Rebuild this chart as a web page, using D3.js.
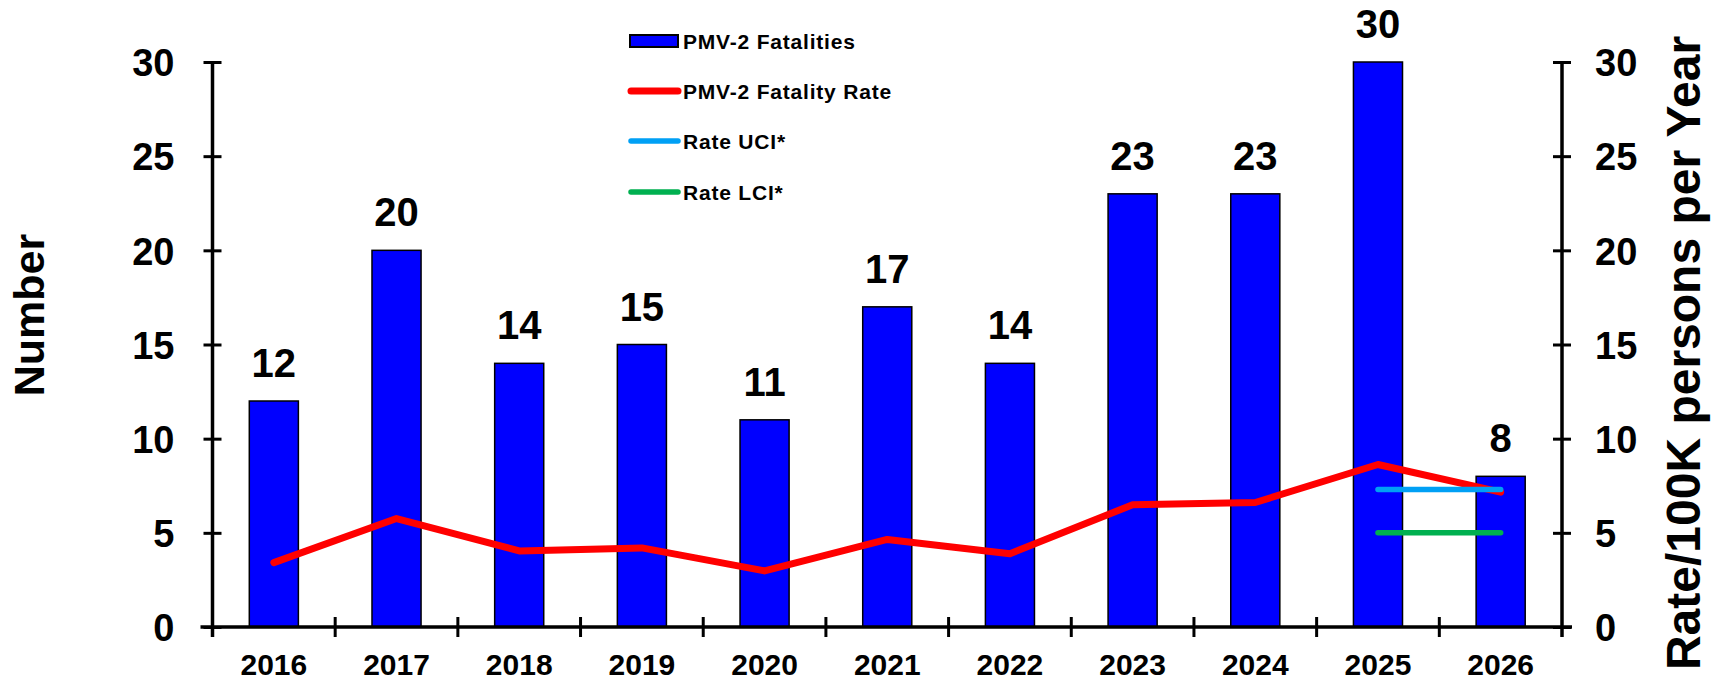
<!DOCTYPE html>
<html><head><meta charset="utf-8">
<script src="https://cdn.jsdelivr.net/npm/d3@7"></script>
<style>
html,body{margin:0;padding:0;background:#fff;}
text{font-family:"Liberation Sans",Arial,sans-serif;font-weight:bold;fill:#000;}
</style></head>
<body><svg id="c" width="1731" height="683"></svg>
<script>
const years = ["2016","2017","2018","2019","2020","2021","2022","2023","2024","2025","2026"];
const fatalities = [12,20,14,15,11,17,14,23,23,30,8];
const fatalityRate = [3.42,5.76,4.04,4.20,2.98,4.65,3.89,6.49,6.61,8.63,7.16];
const ciYears = ["2025","2026"];
const rateUCI = [7.3,7.3];
const rateLCI = [5.0,5.0];
const yTicks = [0,5,10,15,20,25,30];
const legendLabels = ["PMV-2 Fatalities","PMV-2 Fatality Rate","Rate UCI*","Rate LCI*"];

const svg = d3.select("#c");
const L = 212.5, R = 1562, T = 62, B = 627;
const x = d3.scaleBand().domain(years).range([L,R]).paddingInner(0.6).paddingOuter(0.3);
const y = d3.scaleLinear().domain([0,30]).range([B,T]);
const y2 = d3.scaleLinear().domain([0,30]).range([B,T]);
const step = x.step();

// bars
svg.append("g").selectAll("rect").data(years).join("rect")
  .attr("x", d=>x(d)).attr("width", x.bandwidth())
  .attr("y", (d,i)=>y(fatalities[i])).attr("height",(d,i)=>B-y(fatalities[i]))
  .attr("fill","#0000FF").attr("stroke","#000").attr("stroke-width",1.5);

// data labels
svg.append("g").selectAll("text").data(years).join("text")
  .attr("x", d=>x(d)+x.bandwidth()/2).attr("y",(d,i)=>y(fatalities[i])-24)
  .attr("text-anchor","middle").style("font-size","40px")
  .text((d,i)=>fatalities[i]);

// rate line
const cx = d=>x(d)+x.bandwidth()/2;
const line = d3.line().x(d=>cx(d[0])).y(d=>y2(d[1]));
svg.append("path").datum(years.map((d,i)=>[d,fatalityRate[i]]))
  .attr("d",line).attr("fill","none").attr("stroke","#FF0000").attr("stroke-width",7)
  .attr("stroke-linejoin","round").attr("stroke-linecap","round");
svg.append("path").datum(ciYears.map((d,i)=>[d,rateUCI[i]]))
  .attr("d",line).attr("fill","none").attr("stroke","#00A0F5").attr("stroke-width",5.5)
  .attr("stroke-linecap","round");
svg.append("path").datum(ciYears.map((d,i)=>[d,rateLCI[i]]))
  .attr("d",line).attr("fill","none").attr("stroke","#00B050").attr("stroke-width",5.5)
  .attr("stroke-linecap","round");

// axes
const gl = svg.append("g").attr("transform",`translate(${L},0)`)
  .call(d3.axisLeft(y).tickValues(yTicks).tickSize(9).tickPadding(29));
gl.select(".domain").attr("d",`M0,${T}V${B+10}`).attr("stroke","#000").attr("stroke-width",3.5);
gl.selectAll(".tick line").attr("x1",9).attr("stroke","#000").attr("stroke-width",3);
gl.selectAll(".tick text").style("font-size","38px").attr("dy","0.36em");

const gr = svg.append("g").attr("transform",`translate(${R},0)`)
  .call(d3.axisRight(y2).tickValues(yTicks).tickSize(9).tickPadding(24));
gr.select(".domain").attr("d",`M0,${T}V${B+10}`).attr("stroke","#000").attr("stroke-width",3.5);
gr.selectAll(".tick line").attr("x1",-9).attr("stroke","#000").attr("stroke-width",3);
gr.selectAll(".tick text").style("font-size","38px").attr("dy","0.36em");

const gb = svg.append("g").attr("transform",`translate(0,${B})`)
  .call(d3.axisBottom(x).tickSize(0).tickPadding(27));
gb.select(".domain").attr("d",`M${L-12},0H${R+10}`).attr("stroke","#000").attr("stroke-width",3.5);
gb.selectAll(".tick text").style("font-size","30px").attr("dy","0.71em");
// category boundary ticks
const bounds = d3.range(years.length+1).map(i=>L + i*step);
svg.append("g").selectAll("line").data(bounds.slice(1,-1)).join("line")
  .attr("x1",d=>d).attr("x2",d=>d).attr("y1",B-10).attr("y2",B+10)
  .attr("stroke","#000").attr("stroke-width",3);

// axis titles
svg.append("text").attr("transform","translate(44,315) rotate(-90)")
  .attr("text-anchor","middle").style("font-size","43px").text("Number");
svg.append("text").attr("transform","translate(1700,353) rotate(-90)")
  .attr("text-anchor","middle").style("font-size","48px").text("Rate/100K persons per Year");

// legend
const lg = svg.append("g");
const rowsY = [41,91,141,192];
lg.append("rect").attr("x",630).attr("y",rowsY[0]-6).attr("width",48).attr("height",12)
  .attr("fill","#0000FF").attr("stroke","#000").attr("stroke-width",2);
const lcols = ["#FF0000","#00A0F5","#00B050"];
lg.selectAll("line").data(lcols).join("line")
  .attr("x1",631).attr("x2",678).attr("y1",(d,i)=>rowsY[i+1]).attr("y2",(d,i)=>rowsY[i+1])
  .attr("stroke",d=>d).attr("stroke-width",(d,i)=>i===0?7:5.5).attr("stroke-linecap","round");
lg.selectAll("text").data(legendLabels).join("text")
  .attr("x",683).attr("y",(d,i)=>rowsY[i]).attr("dy","0.36em")
  .style("font-size","21px").style("letter-spacing","0.8px").text(d=>d);
</script></body></html>
